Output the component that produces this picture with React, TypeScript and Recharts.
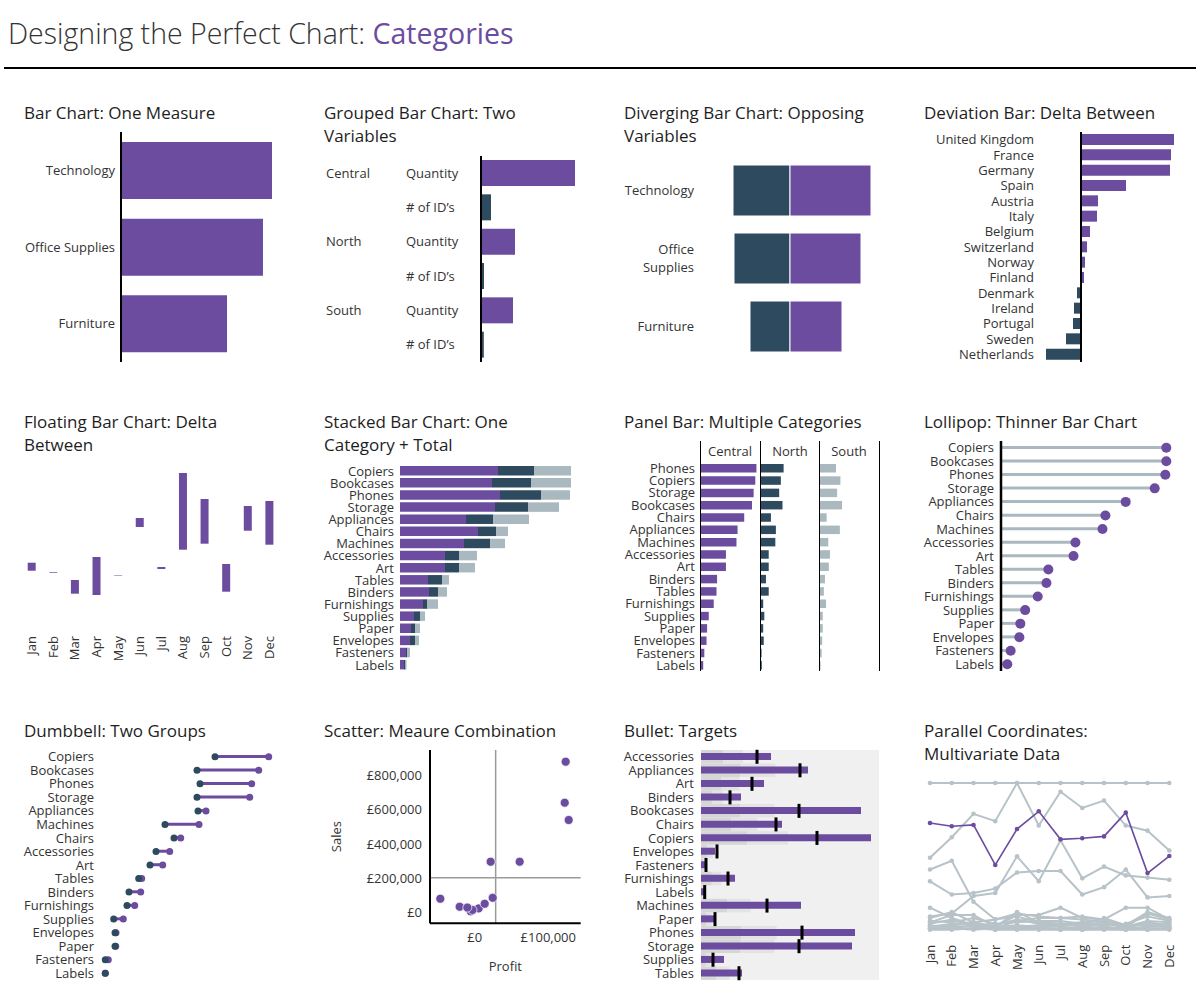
import React from 'react';
import {
  BarChart, Bar, ComposedChart, Line, LineChart, ScatterChart, Scatter,
  XAxis, YAxis, ZAxis, Cell, ReferenceLine, CartesianGrid,
} from 'recharts';

const PURPLE = '#6B4C9F';
const NAVY = '#2D4A5E';
const GREY_BLUE = '#AAB8BF';
const TEXT = '#333333';
const FONT = '"Open Sans", "Noto Sans", sans-serif';
const NO_MARGIN = { top: 0, right: 0, bottom: 0, left: 0 };
// room above/below the label lists so the first and last labels are not clipped
const PAD = 8;
const PAD_MARGIN = { top: PAD, right: 0, bottom: PAD, left: 0 };
const TICK = { fontSize: 13, fill: TEXT };

// ---- bar chart: one measure (sales, £k)
const categories = ['Technology', 'Office Supplies', 'Furniture'];
const categorySales = [836, 786, 587];

// ---- grouped bar: two variables per region
const regions = ['Central', 'North', 'South'];
const regionQuantity = [9400, 3400, 3200];
const regionIds = [1000, 300, 280];

// ---- diverging bar: opposing variables per category
const opposingLeft = [57, 56, 40];
const opposingRight = [81, 71, 52];

// ---- deviation bar: delta per country
const countries = ['United Kingdom', 'France', 'Germany', 'Spain', 'Austria', 'Italy', 'Belgium',
  'Switzerland', 'Norway', 'Finland', 'Denmark', 'Ireland', 'Portugal', 'Sweden', 'Netherlands'];
const countryDelta = [93, 90, 89, 45, 17, 16, 9, 6, 4, 3, -4, -7, -8, -15, -35];

// ---- floating bar: monthly low / high
const months = ['Jan', 'Feb', 'Mar', 'Apr', 'May', 'Jun', 'Jul', 'Aug', 'Sep', 'Oct', 'Nov', 'Dec'];
const monthLow = [29.3, 27.3, 6.3, 5, 24.4, 73, 31, 50.3, 56.3, 8.3, 69.3, 55.3];
const monthHigh = [37.3, 28, 20, 43, 24.9, 82, 33, 127, 101, 36, 94, 99];

// ---- sub-category sales by region (£k), ordered by total
const subCategories = ['Copiers', 'Bookcases', 'Phones', 'Storage', 'Appliances', 'Chairs', 'Machines',
  'Accessories', 'Art', 'Tables', 'Binders', 'Furnishings', 'Supplies', 'Paper', 'Envelopes', 'Fasteners', 'Labels'];
const centralSales = [98, 92, 100, 95, 66, 78, 64, 45, 45, 28, 29, 23, 14, 11, 10, 6, 4];
const northSales = [36, 39, 41, 33, 27, 18, 26, 14, 14, 14, 9, 4, 6, 4, 5, 1, 1.5];
const southSales = [37, 40, 29, 31, 36, 12, 15, 18, 16, 7, 9, 11, 5, 5, 4, 3, 1];

// ---- dumbbell: two groups
const dumbbellItems = ['Copiers', 'Bookcases', 'Phones', 'Storage', 'Appliances', 'Machines', 'Chairs',
  'Accessories', 'Art', 'Tables', 'Binders', 'Furnishings', 'Supplies', 'Envelopes', 'Paper', 'Fasteners', 'Labels'];
const groupOne = [115, 97, 100, 97, 98, 65, 74, 56, 50, 38.7, 29, 27, 13.7, 15, 15, 5.3, 5.3];
const groupTwo = [168.7, 158.7, 151.7, 149.7, 106, 99, 80.7, 69.7, 62.7, 41.7, 40.7, 34.7, 23.3, 16, 15.7, 8.3, 5.3];

// ---- scatter: profit vs sales per sub-category
const scatterProfit = [123600, 122300, 127700, 21700, 61100, -46700, -20400, -8200, -5400, 5400, 13600, 24500, -3000, -10000];
const scatterSales = [880700, 641000, 539800, 296000, 296000, 79500, 32700, 21000, 5800, 23000, 50000, 85000, 14000, 28000];
const avgProfit = 28500;
const avgSales = 202000;
const salesTicks = [0, 200000, 400000, 600000, 800000];
const profitTicks = [0, 100000];

// ---- bullet: actual vs target
const bulletItems = ['Accessories', 'Appliances', 'Art', 'Binders', 'Bookcases', 'Chairs', 'Copiers', 'Envelopes',
  'Fasteners', 'Furnishings', 'Labels', 'Machines', 'Paper', 'Phones', 'Storage', 'Supplies', 'Tables'];
const bulletActual = [70, 107, 63, 40, 160, 81, 170, 14, 4, 34, 3, 100, 14, 154, 151, 23, 41];
const bulletTarget = [56, 99, 51, 29, 98, 75, 116, 16, 5, 27, 3.7, 66, 14, 101, 98, 12, 38];
// shaded bands as a share of each target
const bandInnerShare = 0.4;
const bandOuterShare = 0.75;

// ---- parallel coordinates: each month scaled 0..1
const pcCopiers = [1, 1, 1, 1, 1, 1, 1, 1, 1, 1, 1, 1];
const pcChairs = [0.49, 0.63, 0.79, 0.74, 1.0, 0.71, 0.94, 0.83, 0.88, 0.71, 0.675, 0.54];
const pcBookcases = [0.41, 0.47, 0.19, 0.07, 0.09, 0.05, 0.04, 0.03, 0.05, 0.02, 0.11, 0.07];
const pcStorage = [0.33, 0.24, 0.25, 0.28, 0.39, 0.4, 0.4, 0.24, 0.29, 0.41, 0.22, 0.23];
const pcAppliances = [0.09, 0.11, 0.23, 0.25, 0.5, 0.33, 0.61, 0.35, 0.43, 0.37, 0.355, 0.34];
const pcMachines = [0.15, 0.08, 0.03, 0.02, 0.1, 0.1, 0.15, 0.08, 0.07, 0.15, 0.15, 0.07];
const pcAccessories = [0.08, 0.12, 0.05, 0.07, 0.11, 0.09, 0.08, 0.09, 0.07, 0.03, 0.12, 0.08];
const pcArt = [0.05, 0.1, 0.1, 0.02, 0.12, 0.05, 0.04, 0.05, 0.06, 0.02, 0.06, 0.05];
const pcTables = [0.04, 0.07, 0.02, 0.01, 0.06, 0.08, 0.08, 0.07, 0.05, 0.01, 0.05, 0.03];
const pcBinders = [0.02, 0.04, 0.05, 0.02, 0.03, 0.02, 0.04, 0.02, 0.04, 0.02, 0.04, 0.02];
const pcFurnishings = [0.01, 0.02, 0.02, 0.01, 0.02, 0.03, 0.02, 0.01, 0.02, 0.01, 0.02, 0.02];
const pcSupplies = [0.03, 0.01, 0.03, 0.0, 0.01, 0.01, 0.01, 0.0, 0.01, 0.0, 0.01, 0.01];
const pcPaper = [0.0, 0.0, 0.01, 0.0, 0.0, 0.0, 0.0, 0.0, 0.0, 0.0, 0.0, 0.0];
const pcEnvelopes = [0.06, 0.05, 0.08, 0.04, 0.05, 0.06, 0.06, 0.04, 0.03, 0.04, 0.09, 0.06];
const pcFasteners = [0.02, 0.03, 0.04, 0.03, 0.07, 0.04, 0.03, 0.03, 0.08, 0.03, 0.03, 0.04];
const pcLabels = [0.01, 0.01, 0.0, 0.01, 0.01, 0.02, 0.0, 0.02, 0.01, 0.01, 0.0, 0.01];
const pcPhones = [0.727, 0.705, 0.714, 0.441, 0.686, 0.807, 0.616, 0.623, 0.636, 0.798, 0.386, 0.502];

const pcGrey: [string, number[]][] = [
  ['Copiers', pcCopiers], ['Chairs', pcChairs], ['Bookcases', pcBookcases], ['Storage', pcStorage],
  ['Appliances', pcAppliances], ['Machines', pcMachines], ['Accessories', pcAccessories], ['Art', pcArt],
  ['Tables', pcTables], ['Binders', pcBinders], ['Furnishings', pcFurnishings], ['Supplies', pcSupplies],
  ['Paper', pcPaper], ['Envelopes', pcEnvelopes], ['Fasteners', pcFasteners], ['Labels', pcLabels],
];

// ---- tables built from the arrays above
const oneMeasureData = categories.map((name, i) => ({ name, sales: categorySales[i] }));

const groupedData = regions.flatMap((region, i) => [
  { key: `${region}|Quantity`, value: regionQuantity[i], kind: 'qty' },
  { key: `${region}|# of ID’s`, value: regionIds[i], kind: 'ids' },
]);

const divergingData = categories.map((name, i) => ({ name, left: -opposingLeft[i], right: opposingRight[i] }));

const deviationData = countries.map((name, i) => ({ name, delta: countryDelta[i] }));

const floatingData = months.map((month, i) => ({ month, range: [monthLow[i], monthHigh[i]] }));

const salesData = subCategories.map((name, i) => ({
  name,
  central: centralSales[i],
  north: northSales[i],
  south: southSales[i],
  total: centralSales[i] + northSales[i] + southSales[i],
}));
const byCentral = [...salesData].sort((a, b) => b.central - a.central);

const dumbbellData = dumbbellItems.map((name, i) => ({
  name, one: groupOne[i], two: groupTwo[i], span: [groupOne[i], groupTwo[i]],
}));

const scatterData = scatterProfit.map((profit, i) => ({ profit, sales: scatterSales[i] }));

const bulletData = bulletItems.map((name, i) => ({
  name,
  actual: bulletActual[i],
  target: bulletTarget[i],
  bandInner: bulletTarget[i] * bandInnerShare,
  bandOuter: bulletTarget[i] * (bandOuterShare - bandInnerShare),
}));

const parallelData = months.map((month, i) => {
  const row: Record<string, number | string> = { i, month, Phones: pcPhones[i] };
  pcGrey.forEach(([name, vals]) => { row[name] = vals[i]; });
  return row;
});

const gbp = (v: number) => '£' + v.toLocaleString('en-GB');

const catAxis = (width: number, margin: number) => ({
  type: 'category' as const,
  width,
  axisLine: false,
  tickLine: false,
  tickSize: 0,
  tickMargin: margin,
  tick: TICK,
  interval: 0,
});

function Pos({ x, y, children }: { x: number; y: number; children: React.ReactNode }) {
  return <div style={{ position: 'absolute', left: x, top: y }}>{children}</div>;
}

function Title({ x, y, text }: { x: number; y: number; text: string }) {
  return (
    <div style={{ position: 'absolute', left: x, top: y, fontSize: 17, lineHeight: '23px', color: '#1e1e1e', whiteSpace: 'pre' }}>
      {text}
    </div>
  );
}

function MonthTick({ x, payload, top, byIndex }: any) {
  const label = byIndex ? months[payload.value] : payload.value;
  return (
    <text x={x} y={top} dy="0.355em" textAnchor="end" transform={`rotate(-90, ${x}, ${top})`} fontSize={13} fill={TEXT}>
      {label}
    </text>
  );
}

function GroupedTick({ y, payload }: any) {
  const [region, measure] = String(payload.value).split('|');
  return (
    <g>
      {measure === 'Quantity' && (
        <text x={26} y={y} dy="0.355em" fontSize={13} fill={TEXT}>{region}</text>
      )}
      <text x={106} y={y} dy="0.355em" fontSize={13} fill={TEXT}>{measure}</text>
    </g>
  );
}

const wrappedNames: Record<string, string[]> = { 'Office Supplies': ['Office', 'Supplies'] };

function DivergingTick({ y, payload }: any) {
  const lines = wrappedNames[payload.value] || [payload.value];
  const start = -((lines.length - 1) * 18) / 2;
  return (
    <text x={94} y={y} textAnchor="end" fontSize={13} fill={TEXT}>
      {lines.map((l: string, i: number) => (
        <tspan key={l} x={94} y={y + start + i * 18} dy="0.355em">{l}</tspan>
      ))}
    </text>
  );
}

function TargetMark({ cx, cy, index }: any) {
  if (cx == null || cy == null) return <g key={index} />;
  return <rect key={index} x={cx - 1.5} y={cy - 7} width={3} height={14} fill="#000" />;
}

export default function App() {
  return (
    <div style={{ position: 'absolute', left: 0, top: 0, width: 1200, height: 1000, background: '#fff', fontFamily: FONT, color: TEXT }}>
      <div style={{ position: 'absolute', left: 8, top: 13, fontSize: 28.5, lineHeight: '40px', whiteSpace: 'pre' }}>
        <span style={{ color: '#333', fontWeight: 300 }}>Designing the Perfect Chart: </span>
        <span style={{ color: PURPLE }}>Categories</span>
      </div>
      <div style={{ position: 'absolute', left: 4, top: 67, width: 1192, height: 2, background: '#000' }} />

      {/* row 1 */}
      <Title x={24} y={100.5} text="Bar Chart: One Measure" />
      <Pos x={0} y={132}>
        <BarChart width={272} height={230} data={oneMeasureData} layout="vertical" margin={NO_MARGIN}>
          <XAxis type="number" hide domain={[0, 'dataMax']} />
          <YAxis dataKey="name" {...catAxis(121, 6)} axisLine={{ stroke: '#000', strokeWidth: 2 }} />
          <Bar dataKey="sales" fill={PURPLE} barSize={57} isAnimationActive={false} />
        </BarChart>
      </Pos>

      <Title x={324} y={100.5} text={'Grouped Bar Chart: Two\nVariables'} />
      <Pos x={300} y={156}>
        <BarChart width={275} height={206} data={groupedData} layout="vertical" margin={NO_MARGIN}>
          <XAxis type="number" hide domain={[0, 'dataMax']} />
          <YAxis dataKey="key" {...catAxis(181, 6)} axisLine={{ stroke: '#000', strokeWidth: 2 }} tick={(p: any) => <GroupedTick {...p} />} />
          <Bar dataKey="value" barSize={26} isAnimationActive={false}>
            {groupedData.map((d) => <Cell key={d.key} fill={d.kind === 'qty' ? PURPLE : NAVY} />)}
          </Bar>
        </BarChart>
      </Pos>

      <Title x={624} y={100.5} text={'Diverging Bar Chart: Opposing\nVariables'} />
      <Pos x={600} y={156}>
        <BarChart width={275} height={204} data={divergingData} layout="vertical" stackOffset="sign" margin={NO_MARGIN}>
          <XAxis type="number" hide domain={[-60, 85]} />
          <YAxis dataKey="name" {...catAxis(130, 6)} tick={(p: any) => <DivergingTick {...p} />} />
          <Bar dataKey="left" stackId="d" fill={NAVY} stroke="#fff" strokeWidth={1} barSize={51} isAnimationActive={false} />
          <Bar dataKey="right" stackId="d" fill={PURPLE} stroke="#fff" strokeWidth={1} barSize={51} isAnimationActive={false} />
        </BarChart>
      </Pos>

      <Title x={924} y={100.5} text="Deviation Bar: Delta Between" />
      <Pos x={900} y={132 - PAD}>
        <BarChart width={274} height={230 + 2 * PAD} data={deviationData} layout="vertical" margin={PAD_MARGIN}>
          <XAxis type="number" hide domain={[-35, 93]} />
          <YAxis dataKey="name" {...catAxis(146, 12)} />
          <Bar dataKey="delta" barSize={11} isAnimationActive={false}>
            {deviationData.map((d) => <Cell key={d.name} fill={d.delta >= 0 ? PURPLE : NAVY} />)}
          </Bar>
          <ReferenceLine x={0} stroke="#000" strokeWidth={2} />
        </BarChart>
      </Pos>

      {/* row 2 */}
      <Title x={24} y={409.5} text={'Floating Bar Chart: Delta\nBetween'} />
      <Pos x={0} y={470}>
        <BarChart width={280} height={190} data={floatingData} margin={{ top: 0, right: 0, bottom: 0, left: 20.7 }}>
          <XAxis dataKey="month" height={60} axisLine={false} tickLine={false} interval={0} tick={(p: any) => <MonthTick {...p} top={166} />} />
          <YAxis type="number" hide domain={[0, 130]} />
          <Bar dataKey="range" fill={PURPLE} barSize={8} isAnimationActive={false} />
        </BarChart>
      </Pos>

      <Title x={324} y={409.5} text={'Stacked Bar Chart: One\nCategory + Total'} />
      <Pos x={300} y={465.2 - PAD}>
        <BarChart width={271} height={206 + 2 * PAD} data={salesData} layout="vertical" margin={PAD_MARGIN}>
          <XAxis type="number" hide domain={[0, 171]} />
          <YAxis dataKey="name" {...catAxis(100, 6)} />
          <Bar dataKey="central" stackId="s" fill={PURPLE} barSize={9.5} isAnimationActive={false} />
          <Bar dataKey="north" stackId="s" fill={NAVY} barSize={9.5} isAnimationActive={false} />
          <Bar dataKey="south" stackId="s" fill={GREY_BLUE} barSize={9.5} isAnimationActive={false} />
        </BarChart>
      </Pos>

      <Title x={624} y={409.5} text="Panel Bar: Multiple Categories" />
      {[700.3, 760.3, 819.3, 879.3].map((x) => (
        <div key={x} style={{ position: 'absolute', left: x - 0.75, top: 440.7, width: 1.5, height: 230, background: '#000' }} />
      ))}
      {[['Central', 730], ['North', 790], ['South', 849]].map(([label, cx]) => (
        <div key={label as string} style={{ position: 'absolute', left: (cx as number) - 30, top: 443, width: 60, textAlign: 'center', fontSize: 13, lineHeight: '17px' }}>
          {label}
        </div>
      ))}
      <Pos x={600} y={461.5 - PAD}>
        <BarChart width={160.3} height={209.4 + 2 * PAD} data={byCentral} layout="vertical" margin={PAD_MARGIN}>
          <XAxis type="number" hide domain={[0, 107]} />
          <YAxis dataKey="name" {...catAxis(101, 6)} />
          <Bar dataKey="central" fill={PURPLE} barSize={8.5} isAnimationActive={false} />
        </BarChart>
      </Pos>
      <Pos x={761} y={461.5 - PAD}>
        <BarChart width={59} height={209.4 + 2 * PAD} data={byCentral} layout="vertical" margin={PAD_MARGIN}>
          <XAxis type="number" hide domain={[0, 107]} />
          <YAxis dataKey="name" type="category" hide width={0} />
          <Bar dataKey="north" fill={NAVY} barSize={8.5} isAnimationActive={false} />
        </BarChart>
      </Pos>
      <Pos x={820} y={461.5 - PAD}>
        <BarChart width={59} height={209.4 + 2 * PAD} data={byCentral} layout="vertical" margin={PAD_MARGIN}>
          <XAxis type="number" hide domain={[0, 107]} />
          <YAxis dataKey="name" type="category" hide width={0} />
          <Bar dataKey="south" fill={GREY_BLUE} barSize={8.5} isAnimationActive={false} />
        </BarChart>
      </Pos>

      <Title x={924} y={409.5} text="Lollipop: Thinner Bar Chart" />
      <Pos x={900} y={441 - PAD}>
        <ComposedChart width={275} height={230 + 2 * PAD} data={salesData} layout="vertical" margin={PAD_MARGIN}>
          <XAxis type="number" hide domain={[0, 180]} />
          <YAxis dataKey="name" {...catAxis(101, 7)} axisLine={{ stroke: '#000', strokeWidth: 2.5 }} />
          <Bar dataKey="total" fill={GREY_BLUE} barSize={3} isAnimationActive={false} />
          <Line dataKey="total" stroke="none" dot={{ r: 5, fill: PURPLE, stroke: 'none' }} activeDot={false} isAnimationActive={false} />
        </ComposedChart>
      </Pos>

      {/* row 3 */}
      <Title x={24} y={718.5} text="Dumbbell: Two Groups" />
      <Pos x={0} y={750 - PAD}>
        <ComposedChart width={275} height={230 + 2 * PAD} data={dumbbellData} layout="vertical" margin={PAD_MARGIN}>
          <XAxis type="number" hide domain={[0, 175]} />
          <YAxis dataKey="name" {...catAxis(100, 6)} />
          <Bar dataKey="span" fill={PURPLE} barSize={3} isAnimationActive={false} />
          <Line dataKey="two" stroke="none" dot={{ r: 3.5, fill: PURPLE, stroke: 'none' }} activeDot={false} isAnimationActive={false} />
          <Line dataKey="one" stroke="none" dot={{ r: 3.5, fill: NAVY, stroke: 'none' }} activeDot={false} isAnimationActive={false} />
        </ComposedChart>
      </Pos>

      <Title x={324} y={718.5} text="Scatter: Meaure Combination" />
      <Pos x={300} y={750}>
        <ScatterChart width={280.7} height={233.3} margin={NO_MARGIN}>
          <XAxis
            type="number" dataKey="profit" domain={[-60700, 144000]} ticks={profitTicks} tickFormatter={gbp}
            axisLine={{ stroke: '#000', strokeWidth: 2 }} tickLine={false} tickSize={0} tickMargin={9} tick={TICK} height={60}
            label={{ value: 'Profit', position: 'insideBottom', offset: 12, fill: TEXT, fontSize: 13 }}
          />
          <YAxis
            type="number" dataKey="sales" domain={[-64000, 949000]} ticks={salesTicks} tickFormatter={gbp} width={130}
            axisLine={{ stroke: '#000', strokeWidth: 2 }} tickLine={false} tickSize={0} tickMargin={8} tick={TICK} interval={0}
            label={{ value: 'Sales', angle: -90, position: 'insideLeft', offset: 36.7, fill: TEXT, fontSize: 13, style: { textAnchor: 'middle' } }}
          />
          <ZAxis range={[80, 80]} />
          <ReferenceLine x={avgProfit} stroke="#9a9a9a" strokeWidth={1.5} />
          <ReferenceLine y={avgSales} stroke="#9a9a9a" strokeWidth={1.5} />
          <Scatter data={scatterData} fill={PURPLE} stroke="#fff" strokeWidth={1} strokeOpacity={0.7} isAnimationActive={false} />
        </ScatterChart>
      </Pos>

      <Title x={624} y={718.5} text="Bullet: Targets" />
      <Pos x={600} y={750 - PAD}>
        <ComposedChart width={279.3} height={230 + 2 * PAD} data={bulletData} layout="vertical" margin={PAD_MARGIN}>
          <CartesianGrid yAxisId="main" fill="#F0F0F0" horizontal={false} vertical={false} />
          <XAxis type="number" hide domain={[0, 178.3]} />
          <YAxis yAxisId="main" dataKey="name" {...catAxis(101, 7)} />
          <YAxis yAxisId="bands" dataKey="name" type="category" hide width={0} />
          <Bar yAxisId="bands" dataKey="bandInner" stackId="b" fill="#D6D6D6" barSize={13.5} isAnimationActive={false} />
          <Bar yAxisId="bands" dataKey="bandOuter" stackId="b" fill="#E3E3E3" barSize={13.5} isAnimationActive={false} />
          <Bar yAxisId="main" dataKey="actual" fill={PURPLE} barSize={7} isAnimationActive={false} />
          <Line yAxisId="main" dataKey="target" stroke="none" dot={(p: any) => <TargetMark {...p} />} activeDot={false} isAnimationActive={false} />
        </ComposedChart>
      </Pos>

      <Title x={924} y={718.5} text={'Parallel Coordinates:\nMultivariate Data'} />
      <Pos x={900} y={778.3}>
        <LineChart width={284.3} height={191.7} data={parallelData} margin={{ top: 5, right: 15, bottom: 0, left: 30 }}>
          <XAxis type="number" dataKey="i" domain={[0, 11]} ticks={months.map((_, i) => i)} interval={0} height={40}
            axisLine={false} tickLine={false} tick={(p: any) => <MonthTick {...p} top={166.7} byIndex />} />
          <YAxis type="number" hide domain={[0, 1]} />
          {pcGrey.map(([name]) => (
            <Line key={name} dataKey={name} stroke="#B7C3C8" strokeWidth={2} dot={{ r: 2.3, fill: '#B7C3C8', stroke: 'none' }} activeDot={false} isAnimationActive={false} />
          ))}
          <Line dataKey="Phones" stroke={PURPLE} strokeWidth={1.6} dot={{ r: 2.3, fill: PURPLE, stroke: 'none' }} activeDot={false} isAnimationActive={false} />
        </LineChart>
      </Pos>
    </div>
  );
}
